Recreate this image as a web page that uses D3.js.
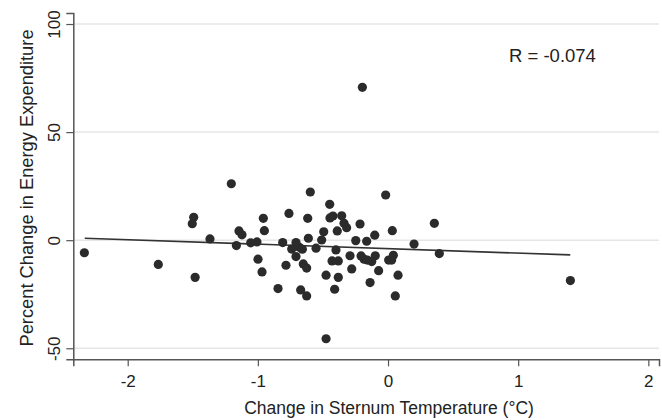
<!DOCTYPE html>
<html>
<head>
<meta charset="utf-8">
<script src="https://cdn.jsdelivr.net/npm/d3@7"></script>
<style>
  html, body { margin: 0; padding: 0; background: #fff; }
  svg { display: block; }
  text { font-family: "Liberation Sans", Arial, sans-serif; fill: #222; }
</style>
</head>
<body>
<script>
// ---- data ----
const tempChange = [-2.333, -1.765, -1.493, -1.504, -1.482, -1.368, -1.204, -1.165, -1.145, -1.122,
  -1.055, -1.007, -0.999, -0.968, -0.958, -0.950, -0.845, -0.809, -0.784, -0.761,
  -0.740, -0.707, -0.707, -0.681, -0.658, -0.651, -0.625, -0.671, -0.625, -0.597,
  -0.617, -0.612, -0.553, -0.510, -0.494, -0.476, -0.476, -0.448, -0.446, -0.423,
  -0.430, -0.410, -0.400, -0.390, -0.382, -0.382, -0.356, -0.338, -0.318, -0.292,
  -0.279, -0.248, -0.215, -0.207, -0.184, -0.164, -0.159, -0.138, -0.125, -0.102,
  -0.098, -0.072, -0.018, 0.005, 0.033, 0.041, 0.028, 0.077, 0.056, 0.200,
  0.356, 0.394, 1.401, -0.197];
const eeChange = [-5.8, -11.2, 10.6, 7.6, -17.2, 0.6, 26.1, -2.5, 4.3, 2.5,
  -1.2, -0.8, -8.8, -14.7, 10.1, 4.4, -22.4, -1.1, -11.6, 12.4,
  -4.1, -1.1, -7.6, -3.3, -4.2, -11.0, -12.9, -23.0, -25.8, 22.3,
  10.1, 0.9, -3.7, 0.1, 3.9, -16.2, -45.6, 16.6, 10.3, 11.2,
  -9.6, -22.7, -4.5, 4.3, -9.6, -17.2, 11.3, 7.8, 5.8, -7.2,
  -13.3, -0.2, 7.5, -7.3, -8.8, -0.5, -9.2, -19.6, -9.9, 2.3,
  -7.2, -14.1, 20.9, -9.2, 4.4, -7.0, -9.2, -16.2, -25.8, -1.8,
  7.8, -6.2, -18.7, 70.7];
const fitX = [-2.33, 1.40];
const fitY = [0.9, -6.8];
const xTicks = [-2, -1, 0, 1, 2];
const yTicks = [-50, 0, 50, 100];
const rLabel = "R = -0.074";
const xTitle = "Change in Sternum Temperature (°C)";
const yTitle = "Percent Change in Energy Expenditure";

// ---- layout ----
const W = 662, H = 420;
const mLeft = 73.3, mRight = 659, mTop = 13, mBottom = 359.3;

const svg = d3.select("body").append("svg").attr("width", W).attr("height", H);

const x = d3.scaleLinear().domain([-2.418, 2.082]).range([mLeft, mRight]);
const y = d3.scaleLinear().domain([-55.1, 105.1]).range([mBottom, mTop]);

const fmt = d => String(d); // plain hyphen-minus like the reference

// gridlines
svg.append("g").selectAll("line").data(yTicks).join("line")
  .attr("x1", mLeft).attr("x2", mRight)
  .attr("y1", d => y(d)).attr("y2", d => y(d))
  .attr("stroke", "#e6e6e6").attr("stroke-width", 1.5);

// axes
const xAxis = svg.append("g").attr("transform", `translate(0,${mBottom})`)
  .call(d3.axisBottom(x).tickValues(xTicks).tickSizeOuter(0).tickSize(7).tickPadding(8)
    .tickFormat(fmt));
const yAxis = svg.append("g").attr("transform", `translate(${mLeft},0)`)
  .call(d3.axisLeft(y).tickValues(yTicks).tickSizeOuter(0).tickSize(7).tickFormat(fmt));

[xAxis, yAxis].forEach(g => {
  g.select(".domain").attr("stroke", "#555").attr("stroke-width", 1.5);
  g.selectAll(".tick line").attr("stroke", "#555").attr("stroke-width", 1.2);
  g.selectAll(".tick text").style("font-size", "17px").attr("fill", "#222");
});
xAxis.selectAll(".tick text").attr("dy", "0.75em");
// rotate y tick labels
yAxis.selectAll(".tick text")
  .attr("x", null)
  .attr("text-anchor", "middle")
  .attr("transform", "translate(-13,0) rotate(-90)")
  .attr("dy", "0em");

// regression line
svg.append("line")
  .attr("x1", x(fitX[0])).attr("y1", y(fitY[0]))
  .attr("x2", x(fitX[1])).attr("y2", y(fitY[1]))
  .attr("stroke", "#333").attr("stroke-width", 1.6);

// points
svg.append("g").selectAll("circle").data(tempChange.map((t, i) => [t, eeChange[i]])).join("circle")
  .attr("cx", d => x(d[0])).attr("cy", d => y(d[1])).attr("r", 4.6)
  .attr("fill", "#2b2b2b");

// R annotation
svg.append("text").attr("x", 509).attr("y", 62)
  .style("font-size", "18.5px").text(rLabel);

// titles
svg.append("text").attr("x", x(0) + 1).attr("y", 414)
  .attr("text-anchor", "middle").style("font-size", "17.5px").text(xTitle);
svg.append("text")
  .attr("transform", `translate(33,188) rotate(-90)`)
  .attr("text-anchor", "middle").style("font-size", "18.3px").text(yTitle);
</script>
</body>
</html>
